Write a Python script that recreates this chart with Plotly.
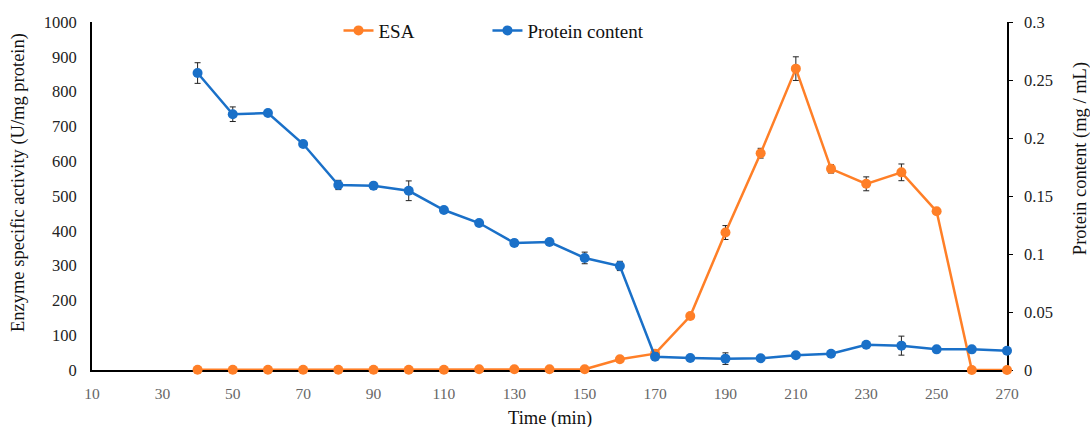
import plotly.graph_objects as go

time_min = [40, 50, 60, 70, 80, 90, 100, 110, 120, 130, 140, 150, 160, 170,
            180, 190, 200, 210, 220, 230, 240, 250, 260, 270]
esa = [0.5, 0.5, 0.5, 0.5, 0.5, 0.5, 0.5, 0.5, 2, 2, 2, 2, 31, 47,
       155, 395, 623, 866, 578, 535, 568, 456, 0, 0]
esa_err = [0, 0, 0, 0, 0, 0, 0, 0, 0, 0, 0, 0, 3, 3,
           5, 20, 14, 34, 12, 20, 24, 5, 0, 0]
protein = [0.256, 0.2205, 0.2215, 0.1948, 0.1595, 0.1588, 0.1545, 0.1379, 0.1267, 0.1095, 0.1103, 0.0966, 0.0897, 0.0115,
           0.0104, 0.0098, 0.0101, 0.0127, 0.0140, 0.0218, 0.0210, 0.0178, 0.0178, 0.0166]
protein_err = [0.0089, 0.0063, 0.002, 0.002, 0.004, 0.003, 0.0085, 0.002, 0.002, 0.003, 0.002, 0.005, 0.004, 0.003,
               0.002, 0.005, 0.002, 0.002, 0.002, 0.002, 0.0082, 0.002, 0.002, 0.002]

x_ticks = list(range(10, 271, 20))
y1_ticks = list(range(0, 1001, 100))
y2_ticks = [0, 0.05, 0.1, 0.15, 0.2, 0.25, 0.3]
y2_ticklabels = ["0", "0.05", "0.1", "0.15", "0.2", "0.25", "0.3"]

ORANGE = "#FF7F27"
BLUE = "#1A70C8"
FONT = "Liberation Serif"

fig = go.Figure()
fig.add_trace(go.Scatter(
    x=time_min, y=esa, name="ESA", mode="lines+markers",
    line=dict(color=ORANGE, width=2.5), marker=dict(color=ORANGE, size=10),
    error_y=dict(type="data", array=esa_err, color="#222222", thickness=1, width=3),
    cliponaxis=False, yaxis="y", legend="legend"))
fig.add_trace(go.Scatter(
    x=time_min, y=protein, name="Protein content", mode="lines+markers",
    line=dict(color=BLUE, width=2.5), marker=dict(color=BLUE, size=10),
    error_y=dict(type="data", array=protein_err, color="#222222", thickness=1, width=3),
    cliponaxis=False, yaxis="y2", legend="legend2"))

legend_common = dict(orientation="h", y=1.03, xanchor="left", yanchor="top",
                     font=dict(size=19, color="#111111"), bgcolor="rgba(0,0,0,0)",
                     itemwidth=30)

fig.update_layout(
    width=1090, height=427,
    margin=dict(l=92, r=83, t=22, b=57),
    paper_bgcolor="white", plot_bgcolor="white",
    font=dict(family=FONT, size=16, color="#222222"),
    showlegend=True,
    legend=dict(x=0.2694, **legend_common),
    legend2=dict(x=0.4322, **legend_common),
    xaxis=dict(range=[10, 270], tickvals=x_ticks, showgrid=False, zeroline=False,
               showline=True, linecolor="black", linewidth=2, ticks="",
               ticklabelstandoff=8, automargin=False,
               tickfont=dict(size=15.5, color="#666666"), layer="below traces"),
    yaxis=dict(range=[0, 1000], tickvals=y1_ticks, showgrid=False, zeroline=False,
               showline=True, linecolor="black", linewidth=2, ticks="",
               ticklabelstandoff=10, automargin=False,
               tickfont=dict(size=16.5, color="#222222"), layer="below traces"),
    yaxis2=dict(range=[0, 0.3], tickvals=y2_ticks, ticktext=y2_ticklabels,
                overlaying="y", side="right", showgrid=False, zeroline=False,
                showline=True, linecolor="black", linewidth=1.5, ticks="outside",
                ticklen=4, tickcolor="black", ticklabelstandoff=8, automargin=False,
                tickfont=dict(size=16.5, color="#222222"), layer="below traces"),
    annotations=[
        dict(text="Time (min)", xref="paper", yref="paper", x=0.5, y=-0.138,
             xanchor="center", yanchor="middle", showarrow=False,
             font=dict(size=18.5, color="#111111")),
        dict(text="Enzyme specific activity (U/mg protein)", textangle=-90,
             xref="paper", yref="paper", x=-0.0809, y=0.540,
             xanchor="center", yanchor="middle", showarrow=False,
             font=dict(size=18.5, color="#111111")),
        dict(text="Protein content (mg / mL)", textangle=-90,
             xref="paper", yref="paper", x=1.0798, y=0.606,
             xanchor="center", yanchor="middle", showarrow=False,
             font=dict(size=18.5, color="#111111")),
    ],
)

fig.write_html("out.html")
